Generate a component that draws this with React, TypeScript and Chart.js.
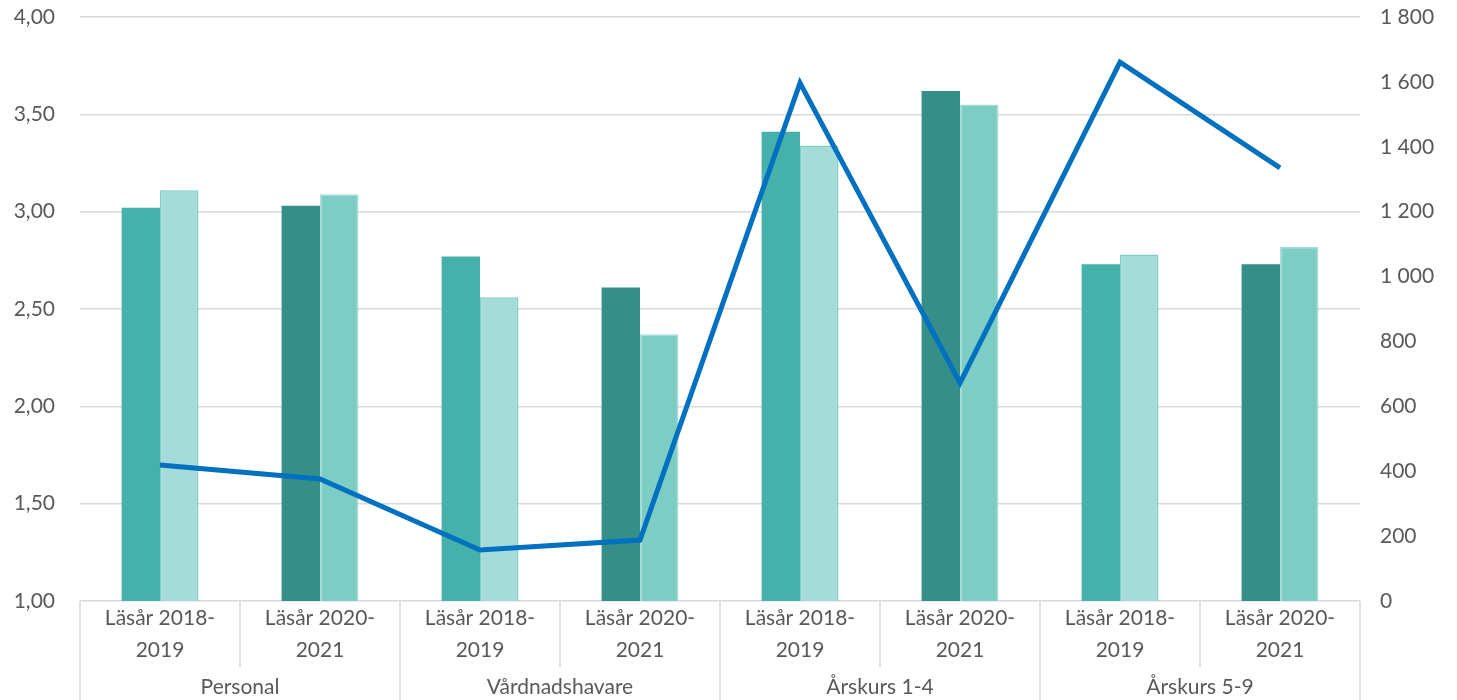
import React, { useEffect, useRef } from "react";
import { Chart, registerables } from "chart.js";

Chart.register(...registerables);

const categories: string[][] = [
  ["Läsår 2018-", "2019"],
  ["Läsår 2020-", "2021"],
  ["Läsår 2018-", "2019"],
  ["Läsår 2020-", "2021"],
  ["Läsår 2018-", "2019"],
  ["Läsår 2020-", "2021"],
  ["Läsår 2018-", "2019"],
  ["Läsår 2020-", "2021"],
];
const groups = ["Personal", "Vårdnadshavare", "Årskurs 1-4", "Årskurs 5-9"];
const seriesA = [3.02, 3.03, 2.77, 2.61, 3.41, 3.62, 2.73, 2.73];
const seriesB = [3.11, 3.09, 2.56, 2.37, 3.34, 3.55, 2.78, 2.82];
const lineValues = [419, 376, 157, 188, 1597, 672, 1661, 1335];

const FONT = "Lato, 'Open Sans', sans-serif";
const FS = 21;
const TEXT = "#595959";
const GRID = "#D9D9D9";

export default function App() {
  const ref = useRef<HTMLCanvasElement | null>(null);
  useEffect(() => {
    document.body.style.margin = "0";
    const canvas = ref.current;
    if (!canvas) return;
    const colA = categories.map((_, i) => (i % 2 === 0 ? "#45B1AA" : "#358E87"));
    const colB = categories.map((_, i) => (i % 2 === 0 ? "#A5DCD9" : "#7DCDC4"));
    const borB = categories.map((_, i) => (i % 2 === 0 ? "#7FCEC5" : "#A5DCD9"));

    const groupPlugin = {
      id: "groupPlugin",
      afterDraw(chart: any) {
        const ctx = chart.ctx;
        const x = chart.scales.x;
        const area = chart.chartArea;
        const half = (x.getPixelForValue(1) - x.getPixelForValue(0)) / 2;
        ctx.save();
        ctx.strokeStyle = GRID;
        ctx.lineWidth = 1.5;
        for (let i = 0; i <= categories.length; i++) {
          const px = i < categories.length ? x.getPixelForValue(i) - half : x.getPixelForValue(i - 1) + half;
          const bottom = i % 2 === 0 ? chart.height : area.bottom + 66;
          ctx.beginPath();
          ctx.moveTo(px, area.bottom);
          ctx.lineTo(px, bottom);
          ctx.stroke();
        }
        ctx.fillStyle = TEXT;
        ctx.font = `${FS}px ${FONT}`;
        ctx.textAlign = "center";
        ctx.textBaseline = "middle";
        groups.forEach((g, gi) => {
          const cx = (x.getPixelForValue(gi * 2) + x.getPixelForValue(gi * 2 + 1)) / 2;
          ctx.fillText(g, cx, area.bottom + 86);
        });
        ctx.restore();
      },
    };

    const fitV = (w: number) => (scale: any) => {
      scale.width = w;
      scale.paddingTop = 0;
      scale.paddingBottom = 0;
    };

    const chart = new Chart(canvas, {
      type: "bar",
      data: {
        labels: categories,
        datasets: [
          {
            type: "line",
            label: "Antal",
            data: lineValues,
            yAxisID: "y1",
            borderColor: "#0070C0",
            borderWidth: 5,
            pointRadius: 0,
            tension: 0,
            order: 0,
          } as any,
          {
            label: "A",
            data: seriesA,
            yAxisID: "y",
            backgroundColor: colA,
            borderWidth: 0,
            categoryPercentage: 0.48,
            barPercentage: 1,
            order: 1,
          },
          {
            label: "B",
            data: seriesB,
            yAxisID: "y",
            backgroundColor: colB,
            borderColor: borB,
            borderWidth: 1.5,
            categoryPercentage: 0.48,
            barPercentage: 1,
            order: 1,
          },
        ],
      },
      options: {
        responsive: false,
        animation: false,
        layout: { padding: { top: 17, right: 0, left: 0, bottom: 0 } },
        plugins: { legend: { display: false }, tooltip: { enabled: false } },
        scales: {
          x: {
            grid: { display: false, drawTicks: false },
            border: { display: false },
            ticks: {
              color: TEXT,
              font: { family: FONT, size: FS, lineHeight: 1.52 },
              padding: 1,
              maxRotation: 0,
              autoSkip: false,
            },
            afterFit(scale: any) {
              scale.height = 99;
              scale.paddingLeft = 0;
              scale.paddingRight = 0;
            },
          },
          y: {
            position: "left",
            min: 1,
            max: 4,
            border: { display: false },
            grid: { color: GRID, lineWidth: 1.5, drawTicks: false },
            ticks: {
              stepSize: 0.5,
              color: TEXT,
              padding: 25,
              font: { family: FONT, size: FS },
              callback: (v: any) => Number(v).toFixed(2).replace(".", ","),
            },
            afterFit: fitV(80),
          },
          y1: {
            position: "right",
            min: 0,
            max: 1800,
            border: { display: false },
            grid: { display: false, drawTicks: false },
            ticks: {
              stepSize: 200,
              color: TEXT,
              padding: 20,
              font: { family: FONT, size: FS },
              callback: (v: any) => String(v).replace(/\B(?=(\d{3})+(?!\d))/g, " "),
            },
            afterFit: fitV(97),
          },
        },
      },
      plugins: [groupPlugin],
    });
    return () => chart.destroy();
  }, []);
  return <canvas ref={ref} width={1457} height={700} style={{ display: "block" }} />;
}
